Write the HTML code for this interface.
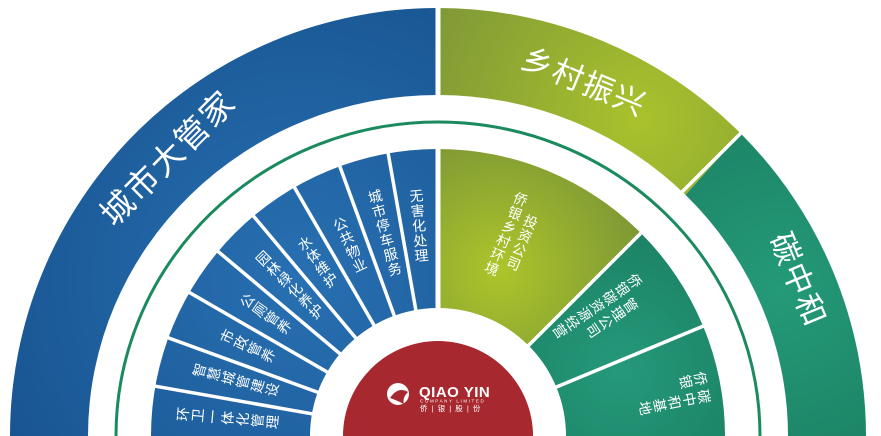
<!DOCTYPE html>
<html><head><meta charset="utf-8"><style>
html,body{margin:0;padding:0;background:#fff;width:881px;height:436px;overflow:hidden}
svg{display:block;overflow:hidden}
.t{font-family:"Liberation Sans","Noto Sans CJK SC",sans-serif;fill:#fff}
.v{writing-mode:vertical-rl;font-size:14px;text-anchor:middle;letter-spacing:1px}
.vl{writing-mode:vertical-lr;font-size:14px;letter-spacing:1px}
</style></head><body>
<div style="width:881px;height:436px;overflow:hidden">
<svg width="881" height="436" viewBox="0 0 881 436" xmlns="http://www.w3.org/2000/svg">
<defs>
<radialGradient id="gb" gradientUnits="userSpaceOnUse" cx="300" cy="280" r="360"><stop offset="0" stop-color="#2870b2"/><stop offset="1" stop-color="#17528e"/></radialGradient>
<radialGradient id="go" gradientUnits="userSpaceOnUse" cx="640" cy="120" r="230"><stop offset="0" stop-color="#a9c22c"/><stop offset="1" stop-color="#7f9937"/></radialGradient>
<radialGradient id="go2" gradientUnits="userSpaceOnUse" cx="500" cy="270" r="150"><stop offset="0" stop-color="#adc52a"/><stop offset="1" stop-color="#7b9636"/></radialGradient>
<radialGradient id="gt" gradientUnits="userSpaceOnUse" cx="780" cy="290" r="220"><stop offset="0" stop-color="#249a78"/><stop offset="1" stop-color="#1b7f62"/></radialGradient>
<radialGradient id="gt2" gradientUnits="userSpaceOnUse" cx="620" cy="370" r="170"><stop offset="0" stop-color="#25997a"/><stop offset="1" stop-color="#1a7d61"/></radialGradient>
</defs>
<path d="M10,436 A428,428 0 0 1 438,8 L438,95 A350,341 0 0 0 88,436 Z" fill="url(#gb)"/>
<path d="M438,8 A428,428 0 0 1 740.6,133.4 L685.5,194.9 A350,341 0 0 0 438,95 Z" fill="url(#go)"/>
<path d="M740.6,133.4 A428,428 0 0 1 866,436 L788,436 A350,341 0 0 0 685.5,194.9 Z" fill="url(#gt)"/>
<path d="M151,436 A287,287 0 0 1 438,149 L438,308 A128,128 0 0 0 310,436 Z" fill="url(#gb)"/>
<path d="M438,149 A287,287 0 0 1 640.9,233.1 L528.5,345.5 A128,128 0 0 0 438,308 Z" fill="url(#go2)"/>
<path d="M640.9,233.1 A287,287 0 0 1 725,436 L566,436 A128,128 0 0 0 528.5,345.5 Z" fill="url(#gt2)"/>
<g stroke="#fff" stroke-width="3.5">
<line x1="319.8" y1="415.2" x2="150.4" y2="385.3"/>
<line x1="325.2" y1="395" x2="163.6" y2="336.1"/>
<line x1="334.1" y1="376" x2="185.1" y2="290"/>
<line x1="346.1" y1="358.9" x2="214.3" y2="248.3"/>
<line x1="360.9" y1="344.1" x2="250.3" y2="212.3"/>
<line x1="378" y1="332.1" x2="292" y2="183.1"/>
<line x1="397" y1="323.2" x2="338.1" y2="161.6"/>
<line x1="417.2" y1="317.8" x2="387.3" y2="148.4"/>
<line x1="548.9" y1="390.1" x2="707.8" y2="324.3"/>
<line x1="522.9" y1="351.1" x2="745.6" y2="128.4"/>
<line x1="438" y1="0" x2="438" y2="320" stroke-width="5"/>
</g>
<path d="M116,436 A322,314 0 0 1 760,436" fill="none" stroke="#1b8a5e" stroke-width="3"/>
<circle cx="438" cy="436" r="95" fill="#a7282f"/>
<g>
<circle cx="398" cy="394" r="11" fill="#fff"/>
<path d="M390,398 Q398,386 408,392 Q402,398 404,404 Q396,400 390,398 Z" fill="#a7282f"/>
<text class="t" x="419" y="397" font-size="15" font-weight="bold" letter-spacing="0.5">QIAO YIN</text>
<text class="t" x="420" y="402.5" font-size="4.5" letter-spacing="1.6">COMPANY LIMITED</text>
<text class="t" x="420" y="411" font-size="7.5" letter-spacing="1">侨 | 银 | 股 | 份</text>
</g>
<text class="t" x="168" y="158" font-size="33" text-anchor="middle" dominant-baseline="central" transform="rotate(-45 168 158)" letter-spacing="2">城市大管家</text>
<text class="t" x="584" y="82" font-size="31" text-anchor="middle" dominant-baseline="central" transform="rotate(22.5 584 82)" letter-spacing="2">乡村振兴</text>
<text class="t" x="798" y="280" font-size="31" text-anchor="middle" dominant-baseline="central" transform="rotate(67.5 798 280)" letter-spacing="2">碳中和</text>
<text class="t v" x="228" y="418" transform="rotate(-85 228 418)">环卫一体化管理</text>
<text class="t v" x="236" y="380" transform="rotate(-75 236 380)">智慧城管建设</text>
<text class="t v" x="248" y="346" transform="rotate(-65 248 346)">市政管养</text>
<text class="t v" x="266" y="314" transform="rotate(-55 266 314)">公厕管养</text>
<text class="t v" x="290" y="285" transform="rotate(-45 290 285)">园林绿化养护</text>
<text class="t v" x="318" y="262" transform="rotate(-35 318 262)">水体维护</text>
<text class="t v" x="350" y="245" transform="rotate(-25 350 245)">公共物业</text>
<text class="t v" x="385" y="233" transform="rotate(-15 385 233)">城市停车服务</text>
<text class="t v" x="419" y="226" transform="rotate(-5 419 226)">无害化处理</text>
<g transform="rotate(22.5 520 240)">
<text class="t vl" x="505" y="195">侨银乡村环境</text>
<text class="t vl" x="523" y="212">投资公司</text>
</g>
<g transform="rotate(56.25 608 318)">
<text class="t vl" x="592" y="268">侨银碳资源经营</text>
<text class="t vl" x="610" y="285">管理公司</text>
</g>
<g transform="rotate(78.75 660 395)">
<text class="t vl" x="652" y="345">侨银</text>
<text class="t vl" x="670" y="345">碳中和基地</text>
</g>
</svg>
</div>
</body></html>
